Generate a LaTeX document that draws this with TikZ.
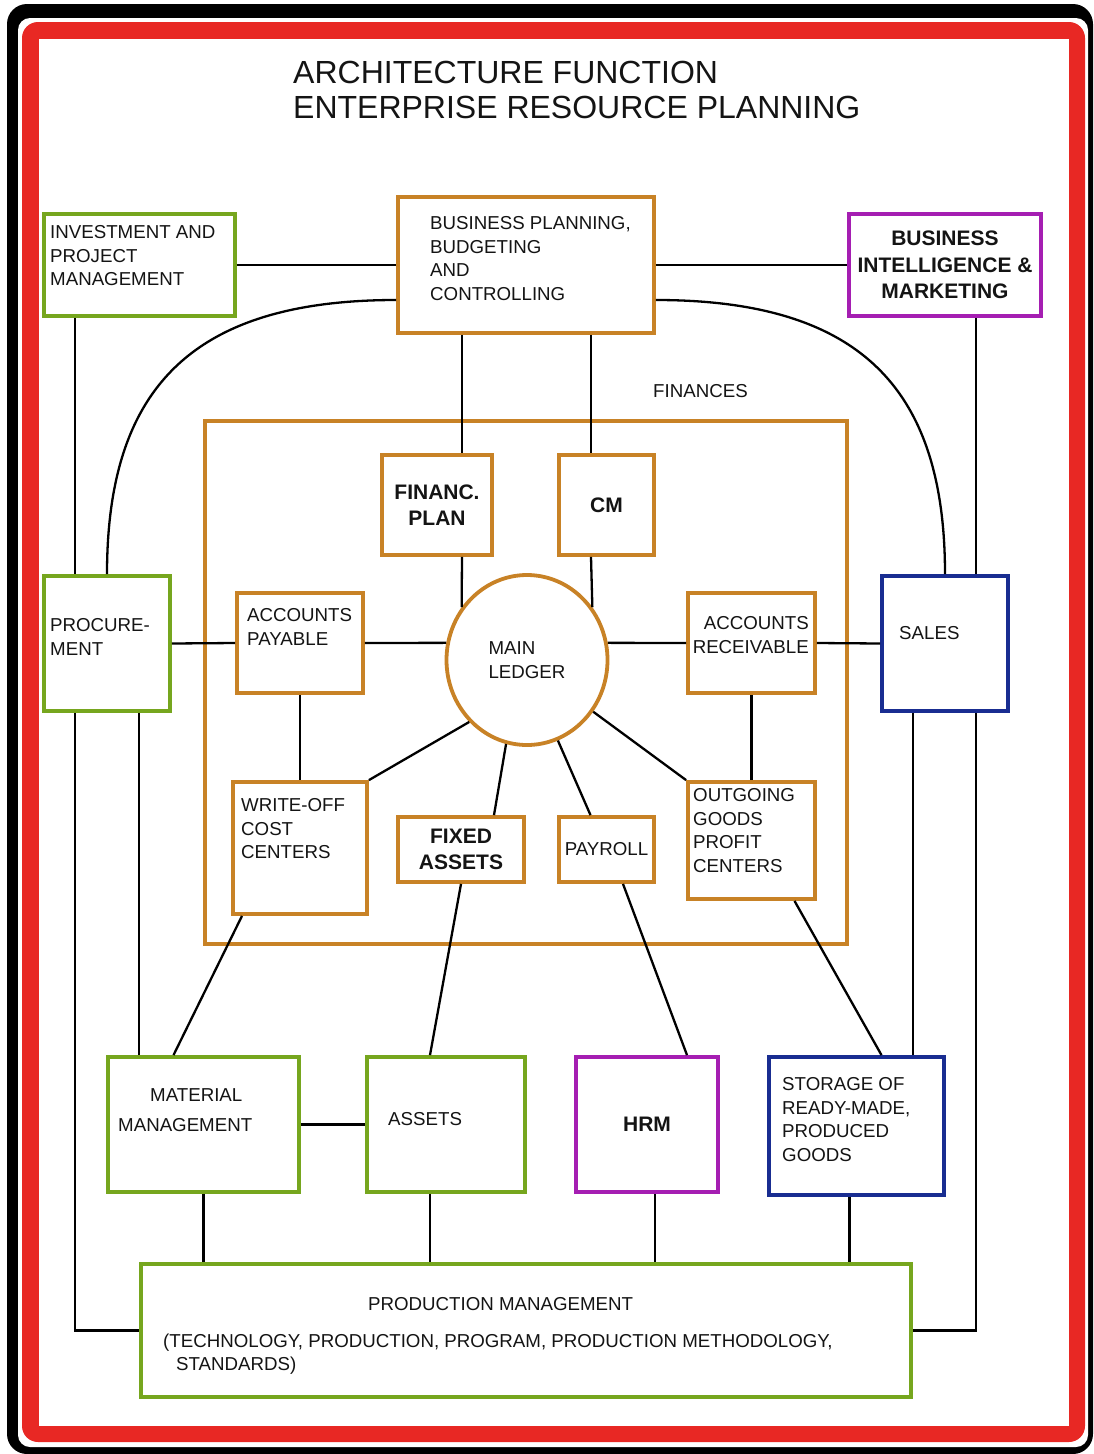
\documentclass[tikz,border=0pt]{standalone}
\usepackage{fontspec}
\setmainfont{Liberation Sans}
\usetikzlibrary{shapes.geometric}
\definecolor{fgreen}{RGB}{118,166,30}
\definecolor{forange}{RGB}{200,130,38}
\definecolor{fpurple}{RGB}{165,30,178}
\definecolor{fblue}{RGB}{25,45,145}
\definecolor{fred}{RGB}{232,40,36}
\newcommand{\rgft}{\fontsize{18.7}{23.5}\selectfont}
\newcommand{\bdft}{\fontsize{21}{26.5}\selectfont\bfseries}
\begin{document}
\begin{tikzpicture}[x=1pt,y=-1pt,
  box/.style={draw, line width=3.8pt, fill=white, inner sep=0pt, align=center, font=\bdft, text=black!92},
  greenbox/.style={box, draw=fgreen},
  orangebox/.style={box, draw=forange},
  purplebox/.style={box, draw=fpurple},
  bluebox/.style={box, draw=fblue},
  txt/.style={inner sep=0pt, anchor=north west, align=left, font=\rgft, text=black!92},
  link/.style={line width=2.3pt, draw=black}]
\useasboundingbox (0,0) rectangle (1093,1454);
% frame
\fill[black, rounded corners=20pt] (7,4) rectangle (1093,1454);
\fill[white, rounded corners=12pt] (18,18) rectangle (1088,1447);
\fill[fred, rounded corners=16pt] (22,22) rectangle (1085,1442);
\fill[white] (39,39) rectangle (1069,1426);

% title
\node[txt, font=\fontsize{32}{35}\selectfont] (title) at (293,61) {ARCHITECTURE FUNCTION\\ENTERPRISE RESOURCE PLANNING};

% finance area
\node[orangebox, fill=none, minimum width=642pt, minimum height=523pt] (fin) at (526,682.5) {};
\node[txt] (finlabel) at (653,384.4) {FINANCES};

% boxes
\node[greenbox, minimum width=191pt, minimum height=102pt] (invest) at (139.5,265) {};
\node[orangebox, minimum width=256pt, minimum height=136pt] (bpb) at (526,265) {};
\node[purplebox, minimum width=192pt, minimum height=102pt] (bi) at (945,265) {BUSINESS\\INTELLIGENCE \&\\MARKETING};
\node[orangebox, minimum width=110pt, minimum height=100pt] (fplan) at (437,505) {FINANC.\\PLAN};
\node[orangebox, minimum width=95pt, minimum height=100pt] (cm) at (606.5,505) {CM};
\node[greenbox, minimum width=126pt, minimum height=135pt] (proc) at (107,643.5) {};
\node[orangebox, minimum width=126pt, minimum height=100pt] (ap) at (300,643) {};
\node[draw=forange, line width=3.8pt, fill=white, ellipse, inner sep=0pt, minimum width=161pt, minimum height=170pt, align=left, font=\rgft, text=black!92] (ml) at (527,660) {MAIN\\LEDGER};
\node[orangebox, minimum width=127pt, minimum height=100pt] (ar) at (751.5,643) {};
\node[bluebox, minimum width=126pt, minimum height=135pt] (sales) at (945,643.5) {};
\node[orangebox, minimum width=134pt, minimum height=132pt] (wo) at (300,848) {};
\node[orangebox, minimum width=126pt, minimum height=65pt] (fa) at (461,849.5) {FIXED\\ASSETS};
\node[orangebox, minimum width=95pt, minimum height=65pt, font=\rgft] (pay) at (606.5,849.5) {PAYROLL};
\node[orangebox, minimum width=127pt, minimum height=117pt] (og) at (751.5,840.5) {};
\node[greenbox, minimum width=191pt, minimum height=135pt] (mm) at (203.5,1124.5) {};
\node[greenbox, minimum width=158pt, minimum height=135pt] (as) at (446,1124.5) {};
\node[purplebox, minimum width=142pt, minimum height=135pt] (hrm) at (647,1124.5) {HRM};
\node[bluebox, minimum width=175pt, minimum height=138pt] (st) at (856.5,1126) {};
\node[greenbox, minimum width=770pt, minimum height=133pt] (pm) at (526,1330.5) {};

% texts
\node[txt] (t-invest) at (50,225.4) {INVESTMENT AND\\PROJECT\\MANAGEMENT};
\node[txt] (t-bpb) at (430,216.4) {BUSINESS PLANNING,\\BUDGETING\\AND\\CONTROLLING};
\node[txt] (t-proc) at (50,618.4) {PROCURE-\\MENT};
\node[txt] (t-ap) at (247,608.4) {ACCOUNTS\\PAYABLE};
\node[txt, anchor=north east, align=right] (t-ar) at (809,616.4) {ACCOUNTS\\RECEIVABLE};
\node[txt] (t-sales) at (899,626.4) {SALES};
\node[txt] (t-wo) at (241,798.4) {WRITE-OFF\\COST\\CENTERS};
\node[txt] (t-og) at (693,788.4) {OUTGOING\\GOODS\\PROFIT\\CENTERS};
\node[txt] (t-mm) at (118,1088.4) {\hspace*{32pt}MATERIAL\\[6.5pt]MANAGEMENT};
\node[txt] (t-as) at (388,1112.4) {ASSETS};
\node[txt] (t-st) at (782,1077.4) {STORAGE OF\\READY-MADE,\\PRODUCED\\GOODS};
\node[txt] (t-pm1) at (368,1297.4) {PRODUCTION MANAGEMENT};
\node[txt] (t-pm2) at (163,1333.4) {(TECHNOLOGY, PRODUCTION, PROGRAM, PRODUCTION METHODOLOGY,\\\hspace*{13pt}STANDARDS)};

% connectors
\draw[link] (invest.east) -- (bpb.west);
\draw[link] (bpb.east) -- (bi.west);
\draw[link] ([xshift=-64.5pt]invest.south) -- ([xshift=-32pt]proc.north);
\draw[link] ([xshift=-32pt]proc.south) |- (pm.west);
\draw[link] ([xshift=31pt]bi.south) -- ([xshift=31pt]sales.north);
\draw[link] ([xshift=31pt]sales.south) |- (pm.east);
\draw[link] ([yshift=-35pt]bpb.west) .. controls +(-205,0) and +(0,-185) .. (proc.north);
\draw[link] ([yshift=-35pt]bpb.east) .. controls +(205,0) and +(0,-185) .. (sales.north);
\draw[link] (proc.east) -- (ap.west);
\draw[link] (ap.east) -- (ml.168);
\draw[link] (ml.12) -- (ar.west);
\draw[link] (ar.east) -- (sales.west);
\draw[link] ([xshift=-64pt]bpb.south) -- ([xshift=25pt]fplan.north);
\draw[link] ([xshift=25pt]fplan.south) -- (ml.141);
\draw[link] ([xshift=65pt]bpb.south) -- ([xshift=-15.5pt]cm.north);
\draw[link] ([xshift=-15.5pt]cm.south) -- (ml.39);
\draw[link] (ap.south) -- (wo.north);
\draw[link] (ml.227) -- (wo.north east);
\draw[link] (ml.256) -- ([xshift=33pt]fa.north);
\draw[link] (ml.291) -- ([xshift=-16pt]pay.north);
\draw[link] (ml.322) -- (og.north west);
\draw[link] (ar.south) -- (og.north);
\draw[link] ([xshift=-58pt]wo.south) -- ([xshift=-30pt]mm.north);
\draw[link] ([xshift=32pt]proc.south) -- ([xshift=-64.5pt]mm.north);
\draw[link] (fa.south) -- ([xshift=-16pt]as.north);
\draw[link] ([xshift=16.5pt]pay.south) -- ([xshift=40pt]hrm.north);
\draw[link] ([xshift=43pt]og.south) -- ([xshift=25pt]st.north);
\draw[link] ([xshift=-32pt]sales.south) -- ([xshift=56.5pt]st.north);
\draw[link] (mm.east) -- (as.west);
\draw[link] (mm.south) -- (mm.south |- pm.north);
\draw[link] ([xshift=-16pt]as.south) -- ([xshift=-16pt]as.south |- pm.north);
\draw[link] ([xshift=8pt]hrm.south) -- ([xshift=8pt]hrm.south |- pm.north);
\draw[link] ([xshift=-7pt]st.south) -- ([xshift=-7pt]st.south |- pm.north);
\end{tikzpicture}
\end{document}
